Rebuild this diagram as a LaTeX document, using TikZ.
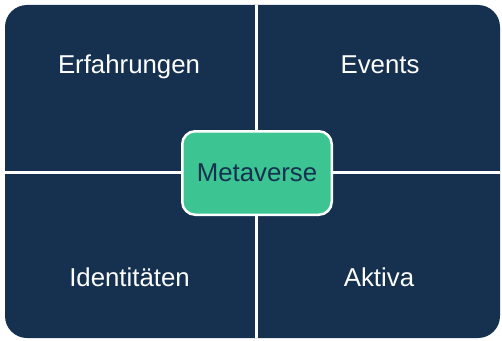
\documentclass[tikz,border=0pt]{standalone}
\usepackage{fontspec}
\setmainfont{Liberation Sans}
\definecolor{navy}{HTML}{15314F}
\definecolor{mint}{HTML}{3CC592}
\begin{document}
\begin{tikzpicture}[x=1bp,y=1bp,
  quadlabel/.style={text=white,font=\fontsize{25.8bp}{30bp}\selectfont,inner sep=0pt,anchor=base},
  centerbox/.style={fill=mint,draw=white,line width=2.5bp,rounded corners=13bp,
    minimum width=149.5bp,minimum height=83.5bp,text=navy,
    font=\fontsize{25.8bp}{30bp}\selectfont,inner sep=0pt},
  gap/.style={draw=white,line width=3bp}]
\useasboundingbox (0,0) rectangle (502,340);
\fill[navy,rounded corners=22bp] (5,2) rectangle (500,335);
\coordinate (vt) at (256.5,335);
\coordinate (vb) at (256.5,2);
\coordinate (hl) at (5,167.5);
\coordinate (hr) at (500,167.5);
\draw[gap] (vt) -- (vb);
\draw[gap] (hl) -- (hr);
\node[quadlabel] (erf) at (129,267) {Erfahrungen};
\node[quadlabel] (ev) at (380,267) {Events};
\node[quadlabel] (id) at (129.5,54) {Identitäten};
\node[quadlabel] (akt) at (379,54) {Aktiva};
\node[centerbox] (meta) at (257,167) {Metaverse};
\end{tikzpicture}
\end{document}
